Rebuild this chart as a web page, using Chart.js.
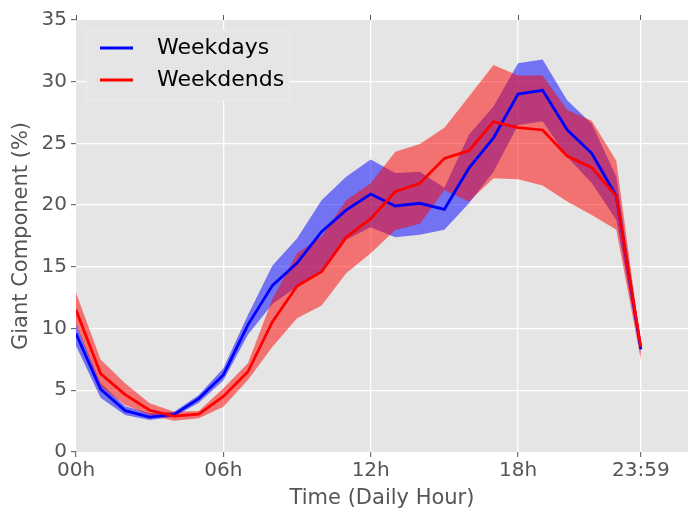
<!DOCTYPE html>
<html>
<head>
<meta charset="utf-8">
<script src="https://cdn.jsdelivr.net/npm/chart.js@4.4.1/dist/chart.umd.min.js"></script>
<style>
  html, body { margin: 0; padding: 0; background: #fff; }
  #wrap { width: 688px; height: 515px; }
</style>
</head>
<body>
<div id="wrap"><canvas id="chart" width="688" height="515"></canvas></div>
<script>
// data
const hours = [0, 1, 2, 3, 4, 5, 6, 7, 8, 9, 10, 11, 12, 13, 14, 15, 16, 17, 18, 19, 20, 21, 22, 23];

const weekdaysMean  = [9.6, 5.1, 3.35, 2.82, 3.05, 4.33, 6.24, 10.3, 13.5, 15.3, 17.85, 19.6, 20.9, 19.93, 20.15, 19.66, 23.0, 25.45, 29.0, 29.3, 26.1, 24.2, 20.74, 8.32];
const weekdaysUpper = [10.4, 5.6, 3.7, 3.13, 3.27, 4.62, 6.78, 11.1, 15.1, 17.3, 20.4, 22.3, 23.7, 22.6, 22.7, 21.4, 25.7, 28.0, 31.5, 31.8, 28.5, 26.6, 22.3, 8.6];
const weekdaysLower = [8.6, 4.4, 3.0, 2.6, 2.86, 4.0, 5.8, 9.5, 12.0, 13.4, 14.7, 17.2, 18.2, 17.4, 17.6, 18.0, 20.15, 22.7, 26.5, 26.8, 23.9, 21.8, 18.8, 7.9];

const weekendsMean  = [11.5, 6.35, 4.65, 3.38, 2.9, 3.07, 4.5, 6.5, 10.56, 13.45, 14.6, 17.39, 18.9, 21.09, 21.77, 23.79, 24.41, 26.76, 26.28, 26.09, 23.98, 23.04, 20.74, 8.5];
const weekendsUpper = [12.9, 7.5, 5.56, 3.94, 3.27, 3.32, 5.16, 7.2, 12.4, 16.1, 17.45, 20.4, 21.77, 24.33, 24.95, 26.28, 28.8, 31.35, 30.5, 30.5, 27.7, 26.84, 23.6, 8.8];
const weekendsLower = [10.3, 5.3, 3.8, 3.0, 2.54, 2.73, 3.67, 5.83, 8.53, 10.83, 11.86, 14.48, 16.1, 17.99, 18.5, 21.2, 20.3, 22.17, 22.1, 21.6, 20.3, 19.2, 18.0, 7.45];

const seriesNames = ['Weekdays', 'Weekdends'];
const seriesColors = ['#0000ff', '#ff0000'];
const bandColors = ['rgba(0,0,255,0.5)', 'rgba(255,0,0,0.5)'];

const xTickValues = [0, 6, 12, 18, 23];
const xTickLabels = ['00h', '06h', '12h', '18h', '23:59'];
const xTitle = 'Time (Daily Hour)';
const yTitle = 'Giant Component (%)';

const FONT = "'DejaVu Sans', sans-serif";
const TEXT = '#555555';

function pts(values) {
    return hours.map((h, i) => ({ x: h, y: values[i] }));
}

// grey panel behind the plot
const panelBg = {
    id: 'panelBg',
    beforeDraw(chart) {
        const { ctx, chartArea: a } = chart;
        ctx.save();
        ctx.fillStyle = '#ffffff';
        ctx.fillRect(0, 0, chart.width, chart.height);
        ctx.fillStyle = '#e5e5e5';
        ctx.fillRect(a.left, a.top, a.right - a.left, a.bottom - a.top);
        ctx.restore();
    }
};

// legend box in the upper left corner of the panel
const boxLegend = {
    id: 'boxLegend',
    afterDraw(chart) {
        const ctx = chart.ctx;
        ctx.save();
        ctx.fillStyle = '#e5e5e5';
        ctx.strokeStyle = '#ededed';
        ctx.lineWidth = 1;
        ctx.beginPath();
        ctx.rect(86.5, 30.5, 203, 70);
        ctx.fill();
        ctx.stroke();
        ctx.font = '22px ' + FONT;
        ctx.textBaseline = 'middle';
        ctx.fillStyle = '#000';
        seriesNames.forEach((name, i) => {
            const y = 48 + i * 32;
            ctx.strokeStyle = seriesColors[i];
            ctx.lineWidth = 2.8;
            ctx.beginPath();
            ctx.moveTo(100, y);
            ctx.lineTo(133, y);
            ctx.stroke();
            ctx.fillText(name, 157, y);
        });
        ctx.restore();
    }
};

function setXTicks(scale) {
    scale.ticks = xTickValues.map(v => ({ value: v }));
}

const edgeGrid = (lo, hi) => c => (c.tick && (c.tick.value === lo || c.tick.value === hi)) ? 'rgba(0,0,0,0)' : '#ffffff';

new Chart(document.getElementById('chart'), {
    type: 'line',
    data: {
        datasets: [
            { data: pts(weekdaysUpper), fill: '+1', backgroundColor: bandColors[0], borderWidth: 0, borderColor: 'rgba(0,0,0,0)', pointRadius: 0, order: 4 },
            { data: pts(weekdaysLower), fill: false, borderWidth: 0, borderColor: 'rgba(0,0,0,0)', pointRadius: 0, order: 4 },
            { data: pts(weekendsUpper), fill: '+1', backgroundColor: bandColors[1], borderWidth: 0, borderColor: 'rgba(0,0,0,0)', pointRadius: 0, order: 3 },
            { data: pts(weekendsLower), fill: false, borderWidth: 0, borderColor: 'rgba(0,0,0,0)', pointRadius: 0, order: 3 },
            { label: seriesNames[0], data: pts(weekdaysMean), borderColor: seriesColors[0], borderWidth: 2.8, pointRadius: 0, fill: false, order: 2 },
            { label: seriesNames[1], data: pts(weekendsMean), borderColor: seriesColors[1], borderWidth: 2.8, pointRadius: 0, fill: false, order: 1 }
        ]
    },
    options: {
        responsive: false,
        animation: false,
        layout: { padding: 0 },
        plugins: {
            legend: { display: false },
            tooltip: { enabled: false }
        },
        elements: { line: { tension: 0 } },
        scales: {
            x: {
                type: 'linear',
                position: 'bottom',
                min: 0,
                max: 24.92,
                afterBuildTicks: setXTicks,
                afterFit: s => { s.height = 63; },
                ticks: {
                    callback: (v, i) => xTickLabels[i],
                    font: { family: FONT, size: 20 },
                    color: TEXT,
                    padding: 2,
                    maxRotation: 0,
                    autoSkip: false
                },
                grid: { color: edgeGrid(0, -1), lineWidth: 1.3, tickLength: 5, tickColor: TEXT, tickWidth: 1 },
                border: { display: false },
                title: { display: true, text: xTitle, font: { family: FONT, size: 21 }, color: TEXT, padding: { top: 0, bottom: 4 } }
            },
            xTop: {
                type: 'linear',
                position: 'top',
                min: 0,
                max: 24.92,
                afterBuildTicks: setXTicks,
                afterFit: s => { s.height = 20; },
                ticks: { display: false },
                grid: { drawOnChartArea: false, tickLength: 5, tickColor: TEXT, tickWidth: 1 },
                border: { display: false }
            },
            y: {
                min: 0,
                max: 35,
                afterFit: s => { s.width = 76; },
                ticks: {
                    stepSize: 5,
                    font: { family: FONT, size: 20 },
                    color: TEXT,
                    padding: 4
                },
                grid: { color: edgeGrid(0, 35), lineWidth: 1.3, tickLength: 5, tickColor: TEXT, tickWidth: 1 },
                border: { display: false },
                title: { display: true, text: yTitle, font: { family: FONT, size: 21 }, color: TEXT, padding: { top: 9, bottom: 0 } }
            }
        }
    },
    plugins: [panelBg, boxLegend]
});
</script>
</body>
</html>
